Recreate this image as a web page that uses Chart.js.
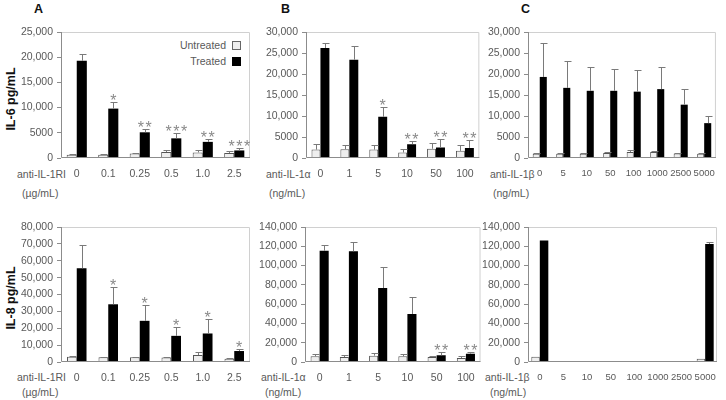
<!DOCTYPE html>
<html><head><meta charset="utf-8">
<script src="https://cdn.jsdelivr.net/npm/chart.js@4.4.1/dist/chart.umd.min.js"></script>
<style>
html,body{margin:0;padding:0;background:#fff;}
#wrap{position:relative;width:726px;height:400px;overflow:hidden;font-family:"Liberation Sans",Arial,sans-serif;}
canvas{position:absolute;}
.t{position:absolute;white-space:nowrap;color:#595959;font-size:10.5px;line-height:12px;}
.L{position:absolute;font-weight:bold;font-size:12.5px;line-height:14px;color:#111;}
.yt{position:absolute;white-space:nowrap;font-weight:bold;font-size:12.5px;line-height:14px;color:#111;transform:translate(-50%,-50%) rotate(-90deg);}
.lg{position:absolute;width:7px;height:7px;border:1px solid #666;}
</style></head>
<body><div id="wrap">
<div class="L" style="left:34px;top:2px">A</div>
<div class="L" style="left:281px;top:2px">B</div>
<div class="L" style="left:521px;top:2px">C</div>
<div class="yt" style="left:11px;top:99px">IL-6 pg/mL</div>
<div class="yt" style="left:11px;top:298px">IL-8 pg/mL</div>
<div class="t" style="left:17px;top:168px">anti-IL-1RI</div>
<div class="t" style="left:22px;top:187px">(µg/mL)</div>
<div class="t" style="left:266px;top:168px">anti-IL-1α</div>
<div class="t" style="left:269px;top:187px">(ng/mL)</div>
<div class="t" style="left:490px;top:168px">anti-IL-1β</div>
<div class="t" style="left:493px;top:187px">(ng/mL)</div>
<div class="t" style="left:17px;top:371px">anti-IL-1RI</div>
<div class="t" style="left:22px;top:386px">(µg/mL)</div>
<div class="t" style="left:261px;top:371px">anti-IL-1α</div>
<div class="t" style="left:265px;top:386px">(ng/mL)</div>
<div class="t" style="left:485px;top:371px">anti-IL-1β</div>
<div class="t" style="left:490px;top:386px">(ng/mL)</div>
<div class="t" style="right:500px;top:39px">Untreated</div>
<div class="lg" style="left:232px;top:41px;background:#eeeeee"></div>
<div class="t" style="right:500px;top:55px">Treated</div>
<div class="lg" style="left:232px;top:57px;background:#000;border-color:#000"></div>
</div>
<script>
// ---------- categories ----------
const catRI = ["0","0.1","0.25","0.5","1.0","2.5"];
const catAlpha = ["0","1","5","10","50","100"];
const catBeta = ["0","5","10","50","100","1000","2500","5000"];

// ---------- IL-6 ----------
const il6RI_untreated    = [650, 650, 900, 1200, 1100, 1000];
const il6RI_untreatedErr = [60, 60, 100, 300, 400, 400];
const il6RI_treated      = [19300, 9800, 5100, 3900, 3200, 1500];
const il6RI_treatedErr   = [1300, 1300, 700, 1000, 500, 500];
const il6RI_stars        = ["", "*", "**", "***", "**", "***"];

const il6A_untreated    = [2000, 2100, 2000, 1300, 2200, 1700];
const il6A_untreatedErr = [1400, 1100, 1000, 800, 1400, 1300];
const il6A_treated      = [26200, 23400, 9800, 3300, 2500, 2400];
const il6A_treatedErr   = [1200, 3200, 2300, 700, 2000, 1800];
const il6A_stars        = ["", "", "*", "**", "**", "**"];

const il6B_untreated    = [1000, 1000, 1000, 1200, 1400, 1400, 1100, 1000];
const il6B_untreatedErr = [100, 100, 100, 150, 500, 200, 100, 100];
const il6B_treated      = [19300, 16700, 16000, 16000, 15800, 16400, 12700, 8300];
const il6B_treatedErr   = [8100, 6300, 5600, 5300, 5200, 5200, 3800, 1600];

// ---------- IL-8 ----------
const il8RI_untreated    = [3100, 2800, 2800, 2600, 4100, 2000];
const il8RI_untreatedErr = [600, 200, 200, 200, 1600, 200];
const il8RI_treated      = [55500, 34200, 24400, 15500, 16900, 6500];
const il8RI_treatedErr   = [13700, 10000, 9200, 5300, 8500, 1400];
const il8RI_stars        = ["", "*", "*", "*", "*", "*"];

const il8A_untreated    = [5900, 5200, 6600, 5900, 5200, 4100];
const il8A_untreatedErr = [2100, 1700, 3100, 2700, 1000, 1800];
const il8A_treated      = [115400, 114800, 76700, 49800, 6900, 8600];
const il8A_treatedErr   = [6300, 9600, 21500, 17600, 3500, 1800];
const il8A_stars        = ["", "", "", "", "**", "**"];

const il8B_untreated    = [5500, null, null, null, null, null, null, 3400];
const il8B_untreatedErr = [0, 0, 0, 0, 0, 0, 0, 0];
const il8B_treated      = [125900, null, null, null, null, null, null, 122400];
const il8B_treatedErr   = [0, 0, 0, 0, 0, 0, 0, 1700];

// ---------- panel layout ----------
const panels = [
  {cats:catRI, u:il6RI_untreated, ue:il6RI_untreatedErr, t:il6RI_treated, te:il6RI_treatedErr, s:il6RI_stars, max:25000, step:5000, box:[61,32,250,158], pct:0.64, xf:10.5},
  {cats:catAlpha, u:il6A_untreated, ue:il6A_untreatedErr, t:il6A_treated, te:il6A_treatedErr, s:il6A_stars, max:30000, step:5000, box:[306,32,480,158], pct:0.62, xf:10.5},
  {cats:catBeta, u:il6B_untreated, ue:il6B_untreatedErr, t:il6B_treated, te:il6B_treatedErr, s:null, max:30000, step:5000, box:[528,32,721,158], pct:0.6, xf:9.5},
  {cats:catRI, u:il8RI_untreated, ue:il8RI_untreatedErr, t:il8RI_treated, te:il8RI_treatedErr, s:il8RI_stars, max:80000, step:10000, box:[61,227,250,362], pct:0.62, xf:10.5},
  {cats:catAlpha, u:il8A_untreated, ue:il8A_untreatedErr, t:il8A_treated, te:il8A_treatedErr, s:il8A_stars, max:140000, step:20000, box:[305,227,481,362], pct:0.62, xf:10.5},
  {cats:catBeta, u:il8B_untreated, ue:il8B_untreatedErr, t:il8B_treated, te:il8B_treatedErr, s:null, max:140000, step:20000, box:[528,227,722,362], pct:0.72, xf:9.5}
];

const YW = 55, PT = 12, PR = 4, XH = 40;
const FONT = "'Liberation Sans', Arial, sans-serif";

const decor = {
  id: 'decor',
  beforeDatasetsDraw(chart) {
    const {ctx, chartArea: a} = chart;
    ctx.save();
    ctx.lineWidth = 1;
    ctx.strokeStyle = '#d0d0d0';
    ctx.beginPath();
    ctx.moveTo(a.left + 0.5, a.top + 0.5);
    ctx.lineTo(a.right - 0.5, a.top + 0.5);
    ctx.lineTo(a.right - 0.5, a.bottom - 0.5);
    ctx.stroke();
    ctx.restore();
  },
  afterDatasetsDraw(chart) {
    const {ctx, chartArea: a} = chart;
    const ys = chart.scales.y;
    ctx.save();
    ctx.lineWidth = 1;
    ctx.strokeStyle = '#8c8c8c';
    ctx.beginPath();
    ctx.moveTo(a.left + 0.5, a.top);
    ctx.lineTo(a.left + 0.5, a.bottom - 0.5);
    ctx.lineTo(a.right, a.bottom - 0.5);
    ctx.stroke();
    chart.data.datasets.forEach((ds, i) => {
      const meta = chart.getDatasetMeta(i);
      meta.data.forEach((el, j) => {
        const v = ds.data[j];
        if (v == null) return;
        const e = ds.errors[j] || 0;
        const yTop = ys.getPixelForValue(v + e);
        const x = Math.round(el.x) + 0.5;
        if (e > 0) {
          ctx.strokeStyle = '#7a7a7a';
          ctx.beginPath();
          ctx.moveTo(x, el.y);
          ctx.lineTo(x, Math.round(yTop) + 0.5);
          ctx.moveTo(x - 3, Math.round(yTop) + 0.5);
          ctx.lineTo(x + 4, Math.round(yTop) + 0.5);
          ctx.stroke();
        }
        if (ds.stars && ds.stars[j]) {
          ctx.fillStyle = '#8a8a8a';
          ctx.font = '16px ' + FONT;
          ctx.textAlign = 'center';
          ctx.textBaseline = 'alphabetic';
          if ('letterSpacing' in ctx) ctx.letterSpacing = '1.5px';
          ctx.fillText(ds.stars[j], el.x + 0.75, yTop + 4);
          if ('letterSpacing' in ctx) ctx.letterSpacing = '0px';
        }
      });
    });
    ctx.restore();
  }
};

function fmt(v) { return v >= 10000 ? v.toLocaleString('en-US') : String(v); }

const wrap = document.getElementById('wrap');
panels.forEach(p => {
  const [l, t, r, b] = p.box;
  const cv = document.createElement('canvas');
  const W = (r - l) + YW + PR, H = (b - t) + PT + XH;
  cv.width = W; cv.height = H;
  cv.style.left = (l - YW) + 'px';
  cv.style.top = (t - PT) + 'px';
  cv.style.width = W + 'px'; cv.style.height = H + 'px';
  wrap.appendChild(cv);
  new Chart(cv, {
    type: 'bar',
    data: {
      labels: p.cats,
      datasets: [
        {label: 'Untreated', data: p.u, errors: p.ue, backgroundColor: '#eeeeee', borderColor: '#555555', borderWidth: 1, borderSkipped: 'bottom'},
        {label: 'Treated', data: p.t, errors: p.te, stars: p.s, backgroundColor: '#000000', borderColor: '#000000', borderWidth: 0}
      ]
    },
    options: {
      responsive: false, animation: false, devicePixelRatio: 1,
      layout: {padding: {top: PT, right: PR, left: 0, bottom: 0}},
      datasets: {bar: {categoryPercentage: p.pct, barPercentage: 1}},
      plugins: {legend: {display: false}, tooltip: {enabled: false}, title: {display: false}},
      scales: {
        x: {
          offset: true,
          grid: {display: false, drawTicks: false},
          border: {display: false},
          ticks: {color: '#595959', font: {family: FONT, size: p.xf}, padding: 10, maxRotation: 0, autoSkip: false},
          afterFit: s => { s.height = XH; }
        },
        y: {
          min: 0, max: p.max,
          grid: {display: true, drawOnChartArea: false, drawTicks: true, tickLength: 4, color: '#8c8c8c'},
          border: {display: false},
          ticks: {stepSize: p.step, color: '#595959', font: {family: FONT, size: 10.5}, padding: 4, callback: v => fmt(v)},
          afterFit: s => { s.width = YW; }
        }
      }
    },
    plugins: [decor]
  });
});
</script>
</body></html>
